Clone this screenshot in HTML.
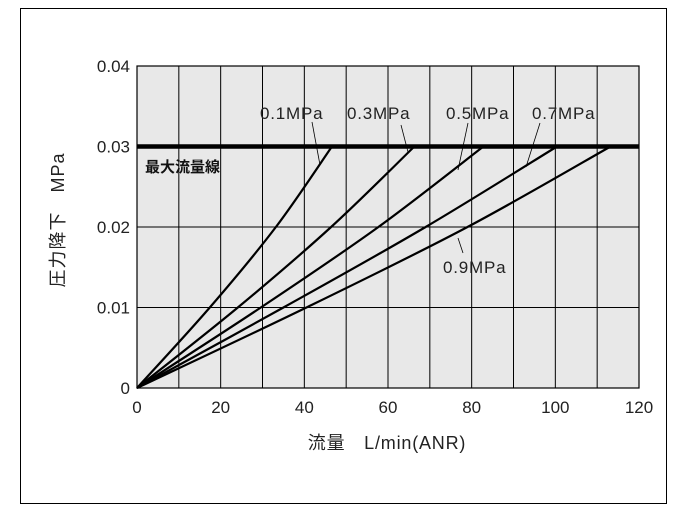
<!DOCTYPE html>
<html><head><meta charset="utf-8"><style>
body{margin:0;background:#fff;}
svg{display:block;font-family:"Liberation Sans","Noto Sans CJK JP",sans-serif;}
</style></head><body>
<svg id="chart" width="684" height="519" viewBox="0 0 684 519">
<rect x="20.5" y="8.5" width="646" height="495" fill="none" stroke="#000" stroke-width="1"/>
<g id="plot"></g>
</svg>
<script>
const xTicks=[0,20,40,60,80,100,120];
const xGrid=[0,10,20,30,40,50,60,70,80,90,100,110,120];
const yTicks=[0,0.01,0.02,0.03,0.04];
const yTickLabels=["0","0.01","0.02","0.03","0.04"];
const maxFlowLine=0.03;
const seriesNames=["0.1MPa","0.3MPa","0.5MPa","0.7MPa","0.9MPa"];
const yLevels=[0,0.01,0.02,0.03];
const flow01=[0,17.4,33.2,46.6];
const flow03=[0,24.1,46.4,66.3];
const flow05=[0,29.6,57.7,82.8];
const flow07=[0,35,69,100.4];
const flow09=[0,40.5,79,113.2];
const seriesFlows=[flow01,flow03,flow05,flow07,flow09];
const L=137,R=639,T=66,B=388;
const X=v=>L+v/120*(R-L), Y=v=>B-v/0.04*(B-T);
const NS="http://www.w3.org/2000/svg";
const g=document.getElementById('plot');
function mk(t,a,p){const e=document.createElementNS(NS,t);for(const k in a)e.setAttribute(k,a[k]);(p||g).appendChild(e);return e;}
let bg=mk('rect',{x:L,y:T,width:R-L,height:B-T,fill:'#e8e8e8',stroke:'#000','stroke-width':1.2});


xGrid.forEach(v=>{let l=mk('line',{x1:X(v),x2:X(v),y1:T,y2:B,stroke:'#000','stroke-width':1});

});
yTicks.forEach(v=>{let l=mk('line',{x1:L,x2:R,y1:Y(v),y2:Y(v),stroke:'#000','stroke-width':1});

});
xTicks.forEach(v=>{let t=mk('text',{x:X(v),y:B+25,'text-anchor':'middle','font-size':17,fill:'#222'});t.textContent=v;

});
yTicks.forEach((v,i)=>{let t=mk('text',{x:L-7,y:Y(v)+6,'text-anchor':'end','font-size':17,fill:'#222'});t.textContent=yTickLabels[i];

});
let ml=mk('line',{x1:L,x2:R,y1:Y(maxFlowLine),y2:Y(maxFlowLine),stroke:'#000','stroke-width':4.5});


seriesFlows.forEach((f,i)=>{
 const pts=f.map((v,j)=>[X(v),Y(yLevels[j])]);
 let d='M'+pts[0][0]+','+pts[0][1];
 for(let j=0;j<pts.length-1;j++){const p0=pts[Math.max(j-1,0)],p1=pts[j],p2=pts[j+1],p3=pts[Math.min(j+2,pts.length-1)];
  d+=' C'+(p1[0]+(p2[0]-p0[0])/6)+','+(p1[1]+(p2[1]-p0[1])/6)+' '+(p2[0]-(p3[0]-p1[0])/6)+','+(p2[1]-(p3[1]-p1[1])/6)+' '+p2[0]+','+p2[1];}
 let p=mk('path',{d:d,fill:'none',stroke:'#000','stroke-width':2.2});
 
 
});
const labelPos=[[260,119],[347,119],[446,119],[532,119],[443,273]];
const leaders=[[312,122,320,165],[401,125,408,152],[468,123,458,170],[540,123,526,167],[458,238,463,253]];
seriesNames.forEach((n,i)=>{let t=mk('text',{x:labelPos[i][0],y:labelPos[i][1],'font-size':17,'letter-spacing':0.8,fill:'#222'});t.textContent=n;


let l=mk('line',{x1:leaders[i][0],y1:leaders[i][1],x2:leaders[i][2],y2:leaders[i][3],stroke:'#000','stroke-width':0.8});

});
let mt=mk('text',{x:145,y:172,'font-size':15,'font-weight':'bold',fill:'#111'});mt.textContent='最大流量線';


let xt=mk('text',{x:387,y:449,'text-anchor':'middle','font-size':18,'letter-spacing':0.8,fill:'#222'});xt.textContent='流量　L/min(ANR)';


let yt=mk('text',{x:0,y:0,'text-anchor':'middle','font-size':18,'letter-spacing':1,fill:'#222',transform:'translate(64,220) rotate(-90)'});yt.textContent='圧力降下　MPa';


</script>
</body></html>
